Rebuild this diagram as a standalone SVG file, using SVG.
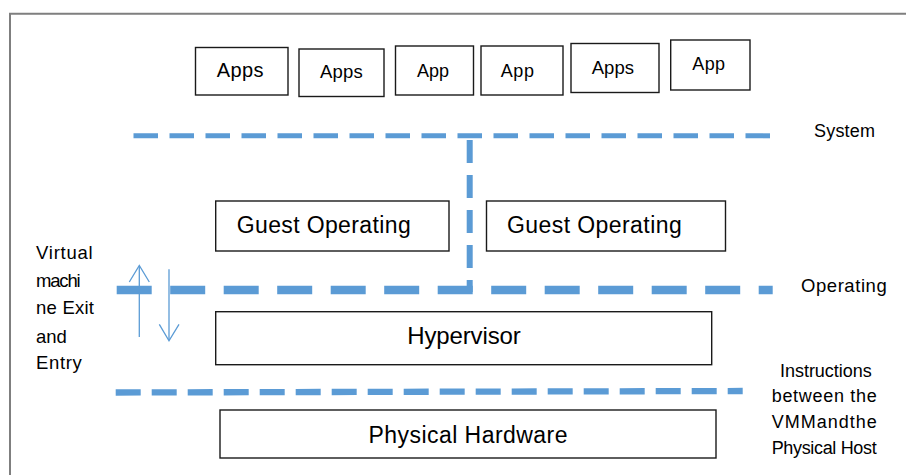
<svg xmlns="http://www.w3.org/2000/svg" width="906" height="475" viewBox="0 0 906 475">
  <style>
    .frame { fill: none; stroke: #7f7f7f; stroke-width: 2; }
    .box { fill: #ffffff; stroke: #1a1a1a; stroke-width: 1.4; }
    .lbl { font-family: "Liberation Sans", Arial, sans-serif; fill: #000000; }
    .dash { fill: none; stroke: #5b9bd5; }
    .arrow { fill: none; stroke: #5b9bd5; stroke-width: 1.3; }
  </style>

  <rect x="0" y="0" width="906" height="475" fill="#ffffff"/>
  <!-- outer frame, open towards the right and bottom edges -->
  <path class="frame" d="M10,475 V13.7 H906"/>

  <!-- application boxes -->
  <g id="app1"><rect class="box" x="195.5" y="47.5" width="92.5" height="47.5"/><text class="lbl" x="216.7" y="77" font-size="20" textLength="46.7">Apps</text></g>
  <g id="app2"><rect class="box" x="299" y="49" width="85" height="47.5"/><text class="lbl" x="320" y="77.5" font-size="18.5" textLength="42.7">Apps</text></g>
  <g id="app3"><rect class="box" x="395.5" y="46" width="78" height="49"/><text class="lbl" x="417" y="76.5" font-size="18" textLength="32">App</text></g>
  <g id="app4"><rect class="box" x="481" y="46" width="82" height="49"/><text class="lbl" x="500.7" y="77" font-size="18" textLength="33.3">App</text></g>
  <g id="app5"><rect class="box" x="571" y="43.5" width="88" height="49"/><text class="lbl" x="591.7" y="73.5" font-size="18.5" textLength="42.3">Apps</text></g>
  <g id="app6"><rect class="box" x="670.7" y="40" width="79.3" height="50"/><text class="lbl" x="692.3" y="70" font-size="18" textLength="32.7">App</text></g>

  <!-- guest operating systems -->
  <g id="guest1"><rect class="box" x="215.7" y="201" width="233.3" height="50"/><text class="lbl" x="236.7" y="233.3" font-size="23" textLength="174">Guest Operating</text></g>
  <g id="guest2"><rect class="box" x="486.5" y="201" width="239" height="50"/><text class="lbl" x="507" y="233.3" font-size="23" textLength="174.7">Guest Operating</text></g>

  <!-- hypervisor and hardware -->
  <g id="hypervisor"><rect class="box" x="215.7" y="311.7" width="496" height="53"/><text class="lbl" x="464" y="344" font-size="24" text-anchor="middle" textLength="113.5">Hypervisor</text></g>
  <g id="hardware"><rect class="box" x="220" y="410" width="496" height="48"/><text class="lbl" x="468" y="442.7" font-size="23" text-anchor="middle" textLength="199">Physical Hardware</text></g>

  <!-- layer boundaries and transition arrows -->
  <g id="connectors">
    <line class="dash" x1="133.5" y1="135.8" x2="770" y2="135.8" stroke-width="5" stroke-dasharray="24.5 11.5"/>
    <line class="dash" x1="469.7" y1="140" x2="469.7" y2="292" stroke-width="6" stroke-dasharray="23 12"/>
    <line class="dash" x1="116.7" y1="290" x2="772.7" y2="290" stroke-width="8.5" stroke-dasharray="35 18.5"/>
    <line class="dash" x1="115.7" y1="392.5" x2="742.7" y2="391" stroke-width="6.3" stroke-dasharray="25 11"/>

    <line class="arrow" x1="139.3" y1="337" x2="139.3" y2="266"/>
    <polyline class="arrow" points="129.3,282 139.3,265.5 149.3,282"/>
    <line class="arrow" x1="169" y1="269.3" x2="169" y2="340"/>
    <polyline class="arrow" points="159.3,324.3 169,340.8 179,324.3"/>
  </g>

  <!-- side labels -->
  <g id="label-exit-entry">
    <text class="lbl" x="36" y="259.3" font-size="18.5" textLength="56.7">Virtual</text>
    <text class="lbl" x="36" y="286.5" font-size="18.5" textLength="44.7">machi</text>
    <text class="lbl" x="36" y="314" font-size="18.5" textLength="58">ne Exit</text>
    <text class="lbl" x="36" y="342.5" font-size="18.5" textLength="30.7">and</text>
    <text class="lbl" x="36" y="369.3" font-size="18.5" textLength="45.7">Entry</text>
  </g>
  <g id="label-system"><text class="lbl" x="814" y="137.3" font-size="18" textLength="61">System</text></g>
  <g id="label-operating"><text class="lbl" x="801" y="291.7" font-size="18.5" textLength="85.7">Operating</text></g>
  <g id="label-instructions">
    <text class="lbl" x="780" y="376.7" font-size="18" textLength="91.7">Instructions</text>
    <text class="lbl" x="771.7" y="401.7" font-size="18" textLength="105" lengthAdjust="spacing">between the</text>
    <text class="lbl" x="771.7" y="428.3" font-size="18" textLength="105" lengthAdjust="spacing">VMMandthe</text>
    <text class="lbl" x="771.7" y="454" font-size="18" textLength="105" lengthAdjust="spacing">Physical Host</text>
  </g>
</svg>
